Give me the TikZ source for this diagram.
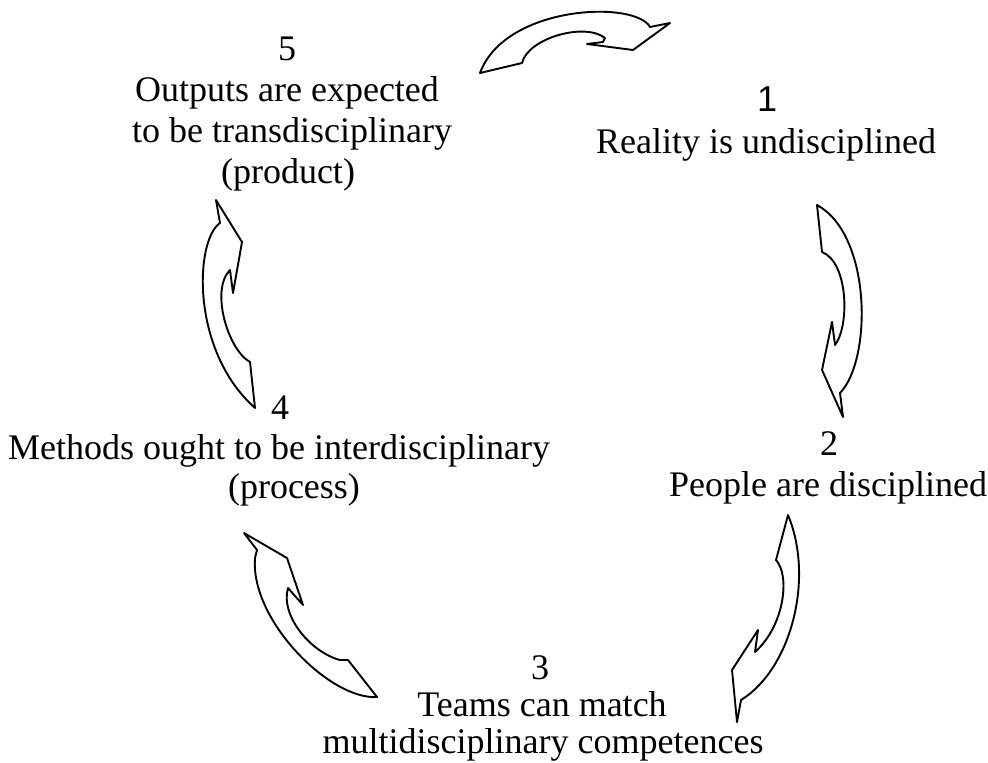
\documentclass[tikz,border=0pt]{standalone}
\usepackage{fontspec}
\setmainfont{Liberation Serif}
\setsansfont{Liberation Sans}
\usepackage{tikz}

\tikzset{
  lbl/.style={anchor=base, inner sep=0pt, font=\fontsize{18}{20}\selectfont},
  blockarrow/.style={draw, line width=0.95pt, fill=white, line join=round}
}

\begin{document}
\begin{tikzpicture}[x=0.5pt,y=-0.5pt]
\useasboundingbox (0,0) rectangle (988,762);

% stage 5
\node[lbl] (num5) at (287,60) {5};
\node[lbl] (txt5a) at (287,101) {Outputs are expected};
\node[lbl] (txt5b) at (292,142) {to be transdisciplinary};
\node[lbl] (txt5c) at (288,183) {(product)};

% stage 1
\node[lbl,font=\fontsize{18}{20}\selectfont\sffamily] (num1) at (767,111) {1};
\node[lbl] (txt1) at (766,153) {Reality is undisciplined};

% stage 2
\node[lbl] (num2) at (829,455) {2};
\node[lbl] (txt2) at (828,496) {People are disciplined};

% stage 3
\node[lbl] (num3) at (540,679) {3};
\node[lbl] (txt3a) at (542,716) {Teams can match};
\node[lbl] (txt3b) at (543,753) {multidisciplinary competences};

% stage 4
\node[lbl] (num4) at (280,419) {4};
\node[lbl] (txt4a) at (279,459) {Methods ought to be interdisciplinary};
\node[lbl] (txt4b) at (294,498) {(process)};

% curved arrows
\draw[blockarrow] (480,73) -- (522,63) .. controls (528,38) and (585,22) .. (605,38)
  -- (603,42) -- (587,44) -- (633,50) -- (670,23) -- (650,27)
  .. controls (635,0) and (505,5) .. (480,73) -- cycle;

\draw[blockarrow] (817,205) -- (822,252) .. controls (848,262) and (850,325) .. (835,345)
  -- (832,322) -- (822,370) -- (843,417) -- (840,393)
  .. controls (872,360) and (872,235) .. (817,205) -- cycle;

\draw[blockarrow] (788,515) -- (776,560) .. controls (790,575) and (785,625) .. (755,652)
  -- (758,630) -- (732,670) -- (737,722) -- (741,700)
  .. controls (790,670) and (815,580) .. (788,515) -- cycle;

\draw[blockarrow] (377,697) -- (348,660) -- (340,660) .. controls (310,652) and (280,615) .. (288,588)
  -- (303,605) -- (287,558) -- (244,533) -- (257,550) -- (255,558)
  .. controls (250,620) and (330,700) .. (377,697) -- cycle;

\draw[blockarrow] (255,408) -- (250,362) .. controls (228,350) and (210,290) .. (230,270)
  -- (233,293) -- (242,242) -- (216,200) -- (220,223)
  .. controls (195,240) and (190,350) .. (255,408) -- cycle;

\end{tikzpicture}
\end{document}
